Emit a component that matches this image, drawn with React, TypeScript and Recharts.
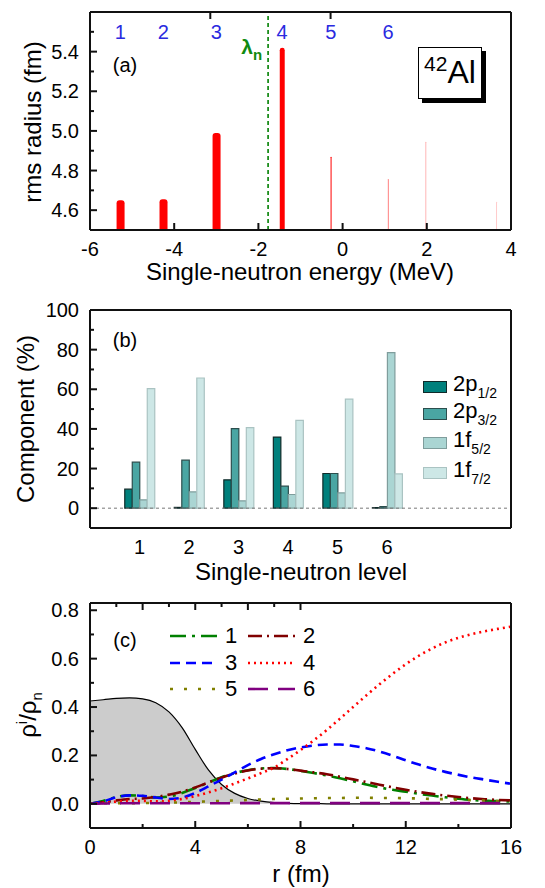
import React from "react"
import { Area, Bar, BarChart, ComposedChart, Line, ReferenceLine, XAxis, YAxis } from "recharts"

const FONT = '"Liberation Sans", Arial, Helvetica, sans-serif'
const INK = "#111"

// (a) single-neutron levels of 42Al
const levelEnergy = [-5.28, -4.26, -3.0, -1.44, -0.28, 1.08, 1.97, 3.65]
const levelRadius = [4.65, 4.655, 4.99, 5.42, 4.87, 4.757, 4.945, 4.642]
const levelOccupancy = [1, 1, 1, 0.62, 0.12, 0.06, 0.035, 0.025]
const levelNumbers = ["1", "2", "3", "4", "5", "6"]
const fermiEnergy = -1.77
const energyTicks = [-6, -4, -2, 0, 2, 4]
const radiusTicks = [4.5, 4.6, 4.7, 4.8, 4.9, 5.0, 5.1, 5.2, 5.3, 5.4, 5.5]
const radiusMajor = [4.6, 4.8, 5.0, 5.2, 5.4]

// (b) components of each level
const levels = [1, 2, 3, 4, 5, 6]
const comp2p12 = [9.6, 0.4, 14.3, 35.9, 17.5, 0.3]
const comp2p32 = [23.2, 24.2, 40.1, 11.1, 17.5, 0.8]
const comp1f52 = [4.2, 8.2, 3.7, 6.9, 7.7, 78.5]
const comp1f72 = [60.3, 65.7, 40.6, 44.3, 55.0, 17.3]
const compTicks = [0, 10, 20, 30, 40, 50, 60, 70, 80, 90, 100]
const compMajor = [0, 20, 40, 60, 80, 100]

// (c) density ratios vs r
const rGrid = [0, 0.5, 1, 1.5, 2, 2.5, 3, 3.5, 4, 4.5, 5, 5.5, 6, 6.5, 7, 7.5, 8, 8.5, 9, 9.5, 10, 10.5, 11, 11.5, 12, 12.5, 13, 13.5, 14, 14.5, 15, 15.5, 16]
const totalDensity = [0.425, 0.43, 0.436, 0.438, 0.434, 0.418, 0.38, 0.315, 0.225, 0.14, 0.08, 0.043, 0.022, 0.011, 0.005, 0.002, 0.001, 0.001, 0, 0, 0, 0, 0, 0, 0, 0, 0, 0, 0, 0, 0, 0, 0]
const ratio1 = [0, 0.012, 0.028, 0.035, 0.032, 0.026, 0.03, 0.045, 0.065, 0.088, 0.11, 0.127, 0.139, 0.146, 0.148, 0.144, 0.136, 0.127, 0.117, 0.106, 0.093, 0.08, 0.068, 0.058, 0.05, 0.041, 0.034, 0.027, 0.021, 0.016, 0.013, 0.011, 0.009]
const ratio2 = [0, 0.006, 0.014, 0.02, 0.022, 0.028, 0.038, 0.05, 0.068, 0.088, 0.108, 0.125, 0.138, 0.145, 0.147, 0.144, 0.137, 0.13, 0.122, 0.112, 0.101, 0.09, 0.079, 0.068, 0.058, 0.049, 0.041, 0.034, 0.028, 0.023, 0.019, 0.016, 0.014]
const ratio3 = [0, 0.01, 0.027, 0.035, 0.033, 0.026, 0.02, 0.026, 0.045, 0.072, 0.1, 0.13, 0.16, 0.185, 0.205, 0.221, 0.233, 0.241, 0.245, 0.245, 0.239, 0.23, 0.216, 0.199, 0.18, 0.162, 0.146, 0.132, 0.12, 0.109, 0.1, 0.091, 0.083]
const ratio4 = [0, 0.004, 0.009, 0.012, 0.012, 0.01, 0.012, 0.02, 0.032, 0.047, 0.064, 0.084, 0.105, 0.127, 0.15, 0.185, 0.222, 0.262, 0.305, 0.352, 0.4, 0.448, 0.494, 0.537, 0.577, 0.612, 0.642, 0.667, 0.686, 0.701, 0.713, 0.723, 0.732]
const ratio5 = [0, 0.002, 0.003, 0.003, 0.003, 0.004, 0.005, 0.006, 0.008, 0.01, 0.012, 0.014, 0.016, 0.018, 0.02, 0.021, 0.022, 0.023, 0.024, 0.024, 0.025, 0.025, 0.024, 0.024, 0.023, 0.022, 0.02, 0.019, 0.017, 0.015, 0.013, 0.011, 0.01]
const ratio6 = [0, 0.001, 0.002, 0.002, 0.002, 0.002, 0.002, 0.002, 0.002, 0.002, 0.002, 0.003, 0.003, 0.003, 0.003, 0.003, 0.003, 0.003, 0.003, 0.003, 0.003, 0.003, 0.003, 0.003, 0.003, 0.003, 0.003, 0.003, 0.003, 0.003, 0.003, 0.003, 0.003]
const rTicks = [0, 2, 4, 6, 8, 10, 12, 14, 16]
const rMajor = [0, 4, 8, 12, 16]
const ratioTicks = [0, 0.1, 0.2, 0.3, 0.4, 0.5, 0.6, 0.7, 0.8]
const ratioMajor = [0, 0.2, 0.4, 0.6, 0.8]

const levelData = levelEnergy.map((energy, i) => ({ energy, radius: levelRadius[i], occupancy: levelOccupancy[i] }))
const compData = levels.map((level, i) => ({ level, p12: comp2p12[i], p32: comp2p32[i], f52: comp1f52[i], f72: comp1f72[i] }))
const densityData = rGrid.map((r, i) => ({
  r, total: totalDensity[i], s1: ratio1[i], s2: ratio2[i], s3: ratio3[i], s4: ratio4[i], s5: ratio5[i], s6: ratio6[i],
}))

const compSeries = [
  { key: "p12", name: "2p", sub: "1/2", fill: "#00807c", stroke: "#102a29" },
  { key: "p32", name: "2p", sub: "3/2", fill: "#4aa6a3", stroke: "#2c4e4d" },
  { key: "f52", name: "1f", sub: "5/2", fill: "#aad5d3", stroke: "#7f9d9c" },
  { key: "f72", name: "1f", sub: "7/2", fill: "#cde7e6", stroke: "#aac3c2" },
]

const densitySeries = [
  { key: "s1", name: "1", color: "#008000", dash: "16 6 3 6" },
  { key: "s2", name: "2", color: "#800000", dash: "14 5 2 5" },
  { key: "s3", name: "3", color: "#0000ff", dash: "10 6" },
  { key: "s4", name: "4", color: "#ff0000", dash: "2 4" },
  { key: "s5", name: "5", color: "#808000", dash: "3 11" },
  { key: "s6", name: "6", color: "#800080", dash: "20 10" },
]

type Side = "left" | "right" | "top" | "bottom"

// inward tick marks, labels only on the major ticks
function frameTick(side: Side, majors: number[], fmt?: (v: number) => string, noLine?: boolean) {
  return (p: any) => {
    const v = Number(p.payload.value)
    const major = majors.some((m) => Math.abs(m - v) < 1e-6)
    const len = major ? 7 : 4
    const x = Number(p.x)
    const y = Number(p.y)
    let x2 = x
    let y2 = y
    if (side === "left") x2 = x + len
    if (side === "right") x2 = x - len
    if (side === "bottom") y2 = y - len
    if (side === "top") y2 = y + len
    let t = null
    if (fmt && major) {
      if (side === "left")
        t = <text x={x - 11} y={y} textAnchor="end" dominantBaseline="central" fontSize={20} fontFamily={FONT} fill="#000">{fmt(v)}</text>
      if (side === "bottom")
        t = <text x={x} y={y + 19} textAnchor="middle" dominantBaseline="central" fontSize={20} fontFamily={FONT} fill="#000">{fmt(v)}</text>
    }
    return (
      <g>
        {!noLine && <line x1={x} y1={y} x2={x2} y2={y2} stroke={INK} strokeWidth={2} />}
        {t}
      </g>
    )
  }
}

function LevelBar(props: any) {
  const { x, y, width, height, payload } = props
  const occ = payload.occupancy
  const w = Math.max(1, 8 * occ)
  const cx = x + width / 2
  const x0 = cx - w / 2
  const x1 = cx + w / 2
  const bottom = y + height
  const r = Math.min(w / 2, 3)
  const d = `M${x0},${bottom} L${x0},${y + r} Q${x0},${y} ${x0 + r},${y} L${x1 - r},${y} Q${x1},${y} ${x1},${y + r} L${x1},${bottom} Z`
  return <path d={d} fill="#ff0000" fillOpacity={Math.min(1, occ / 0.12)} />
}

function Txt({ x, y, size = 24, rotate = 0, color = "#000", children }: any) {
  return (
    <div
      style={{
        position: "absolute", left: x, top: y, fontSize: size, color, fontFamily: FONT, lineHeight: 1,
        whiteSpace: "nowrap", transform: `translate(-50%, -50%) rotate(${rotate}deg)`,
      }}
    >
      {children}
    </div>
  )
}

const axisCommon = { tickSize: 0, tickMargin: 0, tickLine: false, interval: 0 as const }
const frameLine = { stroke: INK, strokeWidth: 2 }

function PanelA() {
  return (
    <BarChart width={545} height={290} data={levelData} margin={{ top: 11, right: 33, bottom: 0, left: 0 }}>
      <XAxis type="number" dataKey="energy" domain={[-6, 4]} ticks={energyTicks} height={60} {...axisCommon} axisLine={frameLine}
        tick={frameTick("bottom", energyTicks, (v) => String(v))} />
      <XAxis xAxisId="top" orientation="top" type="number" domain={[-6, 4]} ticks={energyTicks} height={1} {...axisCommon} axisLine={frameLine}
        tick={frameTick("top", energyTicks)} />
      <YAxis type="number" domain={[4.5, 5.6]} ticks={radiusTicks} width={90} {...axisCommon} axisLine={frameLine}
        tick={frameTick("left", radiusMajor, (v) => v.toFixed(1))} />
      <YAxis yAxisId="right" orientation="right" type="number" domain={[4.5, 5.6]} ticks={radiusTicks} width={1} {...axisCommon} axisLine={frameLine}
        tick={frameTick("right", radiusMajor)} />
      <ReferenceLine x={fermiEnergy} stroke="#008000" strokeWidth={1.6} strokeDasharray="4 3"
        label={(lp: any) => (
          <text x={(lp.viewBox?.x ?? 0) - 6} y={(lp.viewBox?.y ?? 0) + 42} textAnchor="end" fill="#108a10" fontFamily={FONT} fontWeight="bold">
            <tspan fontSize={21}>λ</tspan>
            <tspan fontSize={15} dy={6}>n</tspan>
          </text>
        )} />
      {levelNumbers.map((n, i) => (
        <ReferenceLine key={n} x={levelEnergy[i]} stroke="none"
          label={(lp: any) => (
            <text x={lp.viewBox?.x ?? 0} y={(lp.viewBox?.y ?? 0) + 20} textAnchor="middle" dominantBaseline="central"
              fill="#2a2ae0" fontSize={20} fontFamily={FONT}>{n}</text>
          )} />
      ))}
      <Bar dataKey="radius" barSize={8} shape={LevelBar} isAnimationActive={false} />
    </BarChart>
  )
}

function PanelB() {
  return (
    <BarChart width={545} height={300} data={compData} barGap={0} margin={{ top: 19, right: 33, bottom: 0, left: 0 }}>
      <XAxis type="number" dataKey="level" domain={[0, 8.5]} ticks={levels} height={62} {...axisCommon} axisLine={frameLine}
        tick={frameTick("bottom", levels, (v) => String(v), true)} />
      <XAxis xAxisId="top" orientation="top" type="number" domain={[0, 8.5]} height={1} {...axisCommon} axisLine={frameLine} tick={false} />
      <YAxis type="number" domain={[-10, 100]} ticks={compTicks} width={90} {...axisCommon} axisLine={frameLine}
        tick={frameTick("left", compMajor, (v) => String(v))} />
      <YAxis yAxisId="right" orientation="right" type="number" domain={[-10, 100]} ticks={compTicks} width={1} {...axisCommon} axisLine={frameLine}
        tick={frameTick("right", compMajor)} />
      <ReferenceLine y={0} stroke="#777" strokeWidth={1} strokeDasharray="3 3" />
      {compSeries.map((s) => (
        <Bar key={s.key} dataKey={s.key} barSize={7.5} fill={s.fill} stroke={s.stroke} strokeWidth={1.2} isAnimationActive={false} />
      ))}
    </BarChart>
  )
}

function PanelC() {
  return (
    <ComposedChart width={545} height={298} data={densityData} margin={{ top: 12, right: 33, bottom: 0, left: 0 }}>
      <XAxis type="number" dataKey="r" domain={[0, 16]} ticks={rTicks} height={60} {...axisCommon} axisLine={frameLine}
        tick={frameTick("bottom", rMajor, (v) => String(v))} />
      <XAxis xAxisId="top" orientation="top" type="number" domain={[0, 16]} ticks={rTicks} height={1} {...axisCommon} axisLine={frameLine}
        tick={frameTick("top", rMajor)} />
      <YAxis type="number" domain={[-0.1, 0.83]} ticks={ratioTicks} width={90} {...axisCommon} axisLine={frameLine}
        tick={frameTick("left", ratioMajor, (v) => v.toFixed(1))} />
      <YAxis yAxisId="right" orientation="right" type="number" domain={[-0.1, 0.83]} ticks={ratioTicks} width={1} {...axisCommon} axisLine={frameLine}
        tick={frameTick("right", ratioMajor)} />
      <Area dataKey="total" type="monotone" stroke="#000" strokeWidth={1.2} fill="#cccccc" fillOpacity={1} isAnimationActive={false} />
      {densitySeries.map((s) => (
        <Line key={s.key} dataKey={s.key} type="monotone" stroke={s.color} strokeWidth={2.6} strokeDasharray={s.dash}
          dot={false} isAnimationActive={false} />
      ))}
    </ComposedChart>
  )
}

export default function App() {
  return (
    <div style={{ position: "absolute", left: 0, top: 0, width: 545, height: 888, background: "#fff", fontFamily: FONT }}>
      <div style={{ position: "absolute", left: 0, top: 0 }}><PanelA /></div>
      <div style={{ position: "absolute", left: 0, top: 290 }}><PanelB /></div>
      <div style={{ position: "absolute", left: 0, top: 590 }}><PanelC /></div>

      {/* panel (a) texts */}
      <Txt x={33} y={122} rotate={-90}>rms radius (fm)</Txt>
      <Txt x={300} y={272}>Single-neutron energy (MeV)</Txt>
      <Txt x={125} y={65} size={20}>(a)</Txt>
      <div style={{
        position: "absolute", left: 418, top: 47, width: 64, height: 52, border: "1px solid #000",
        boxShadow: "4px 4px 0 #000", background: "#fff", fontFamily: FONT, display: "flex",
        alignItems: "flex-end", justifyContent: "center", lineHeight: 1, paddingBottom: 10, boxSizing: "border-box",
      }}>
        <span style={{ fontSize: 21, position: "relative", top: -14 }}>42</span>
        <span style={{ fontSize: 32 }}>Al</span>
      </div>

      {/* panel (b) texts */}
      <Txt x={26} y={419} rotate={-90}>Component (%)</Txt>
      <Txt x={301} y={572}>Single-neutron level</Txt>
      <Txt x={125} y={340} size={20}>(b)</Txt>
      {compSeries.map((s, i) => (
        <div key={s.key} style={{ position: "absolute", left: 423, top: [387, 414, 443, 473][i] - 6, height: 12, display: "flex", alignItems: "center" }}>
          <div style={{ width: 24, height: 12, background: s.fill, border: `1px solid ${s.stroke}`, boxSizing: "border-box" }} />
          <div style={{ marginLeft: 6, fontSize: 22, lineHeight: 1, whiteSpace: "nowrap", position: "relative", top: -3 }}>
            {s.name}
            <span style={{ fontSize: 14, position: "relative", top: 7 }}>{s.sub}</span>
          </div>
        </div>
      ))}

      {/* panel (c) texts */}
      <Txt x={28} y={715} rotate={-90}>
        ρ<span style={{ fontSize: 15, position: "relative", top: -9 }}>i</span>/ρ
        <span style={{ fontSize: 15, position: "relative", top: 6 }}>n</span>
      </Txt>
      <Txt x={301} y={874}>r (fm)</Txt>
      <Txt x={125} y={640} size={20}>(c)</Txt>
      {densitySeries.map((s, i) => {
        const col = i % 2
        const row = Math.floor(i / 2)
        const left = col === 0 ? 170 : 248
        const top = [636, 663, 689][row]
        return (
          <div key={s.key} style={{ position: "absolute", left, top: top - 12, height: 24, display: "flex", alignItems: "center" }}>
            <svg width={47} height={24}>
              <line x1={0} y1={12} x2={47} y2={12} stroke={s.color} strokeWidth={2.6} strokeDasharray={s.dash} />
            </svg>
            <span style={{ marginLeft: 8, fontSize: 22, lineHeight: 1 }}>{s.name}</span>
          </div>
        )
      })}
    </div>
  )
}
